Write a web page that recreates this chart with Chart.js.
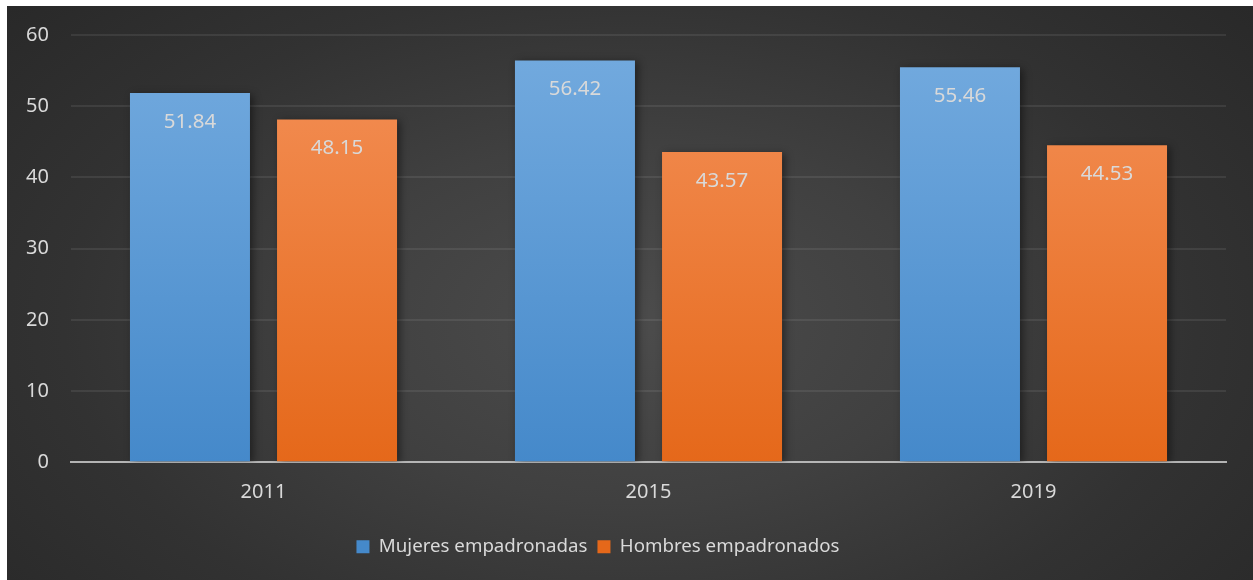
<!DOCTYPE html>
<html>
<head>
<meta charset="utf-8">
<script src="https://cdn.jsdelivr.net/npm/chart.js@4/dist/chart.umd.min.js"></script>
<style>
  html, body { margin: 0; padding: 0; background: #ffffff; }
  #wrap { position: relative; width: 1253px; height: 580px; overflow: hidden; }
  #bg { position: absolute; left: 7px; top: 6px; width: 1246px; height: 574px;
        background: radial-gradient(ellipse 70% 90% at 50% 55%, #4c4c4c 0%, #404040 35%, #323232 65%, #272727 100%); }
  #c { position: absolute; left: 0; top: 0; }
</style>
</head>
<body>
<div id="wrap">
  <div id="bg"></div>
  <canvas id="c" width="1253" height="580"></canvas>
</div>
<script>
const categories = ['2011', '2015', '2019'];
const mujeres = [51.84, 56.42, 55.46];
const hombres = [48.15, 43.57, 44.53];
const seriesNames = ['Mujeres empadronadas', 'Hombres empadronados'];
const yTicks = [0, 10, 20, 30, 40, 50, 60];

const FONT = '"Noto Sans", "Open Sans", sans-serif';
const TEXT = '#d9d9d9';

function grad(top, bottom) {
  return (ctx) => {
    const area = ctx.chart.chartArea;
    if (!area) return bottom;
    const g = ctx.chart.ctx.createLinearGradient(0, area.top, 0, area.bottom);
    g.addColorStop(0, top);
    g.addColorStop(1, bottom);
    return g;
  };
}

const fxPlugin = {
  id: 'fx',
  afterLayout(chart) {
    chart.legend.left -= 15;
    chart.legend.right -= 15;
  },
  beforeDatasetsDraw(chart) {
    const c = chart.ctx;
    c.save();
    c.shadowColor = 'rgba(0,0,0,0.45)';
    c.shadowBlur = 8;
    c.shadowOffsetX = 3;
    c.shadowOffsetY = 2;
  },
  afterDatasetsDraw(chart) {
    const c = chart.ctx;
    c.restore();
    c.save();
    c.fillStyle = TEXT;
    c.font = '20.5px ' + FONT;
    c.textAlign = 'center';
    c.textBaseline = 'middle';
    chart.data.datasets.forEach((ds, i) => {
      const meta = chart.getDatasetMeta(i);
      meta.data.forEach((bar, j) => {
        c.fillText(ds.data[j].toFixed(2), bar.x, bar.y + 29);
      });
    });
    c.restore();
  }
};

new Chart(document.getElementById('c'), {
  type: 'bar',
  data: {
    labels: categories,
    datasets: [
      { label: seriesNames[0], data: mujeres, backgroundColor: grad('#74abdf', '#4589ca'), borderWidth: 0,
        barPercentage: 0.816, categoryPercentage: 0.764 },
      { label: seriesNames[1], data: hombres, backgroundColor: grad('#f49159', '#e5681a'), borderWidth: 0,
        barPercentage: 0.816, categoryPercentage: 0.764 }
    ]
  },
  options: {
    responsive: false,
    animation: false,
    layout: { padding: { left: 0, right: 27, top: 35, bottom: 14 } },
    plugins: {
      tooltip: { enabled: false },
      legend: {
        position: 'bottom',
        labels: {
          color: TEXT,
          font: { family: FONT, size: 18.7 },
          boxWidth: 13,
          boxHeight: 13,
          padding: 10
        }
      }
    },
    scales: {
      x: {
        z: 1,
        grid: { display: false, drawTicks: false },
        border: { display: true, color: 'rgba(200,200,200,0.85)', width: 2 },
        ticks: { color: TEXT, font: { family: FONT, size: 20 }, padding: 18 },
        afterFit(s) { s.height = 65; }
      },
      y: {
        min: 0,
        max: 60,
        grid: { color: 'rgba(255,255,255,0.08)', lineWidth: 2, drawTicks: false },
        border: { display: false },
        afterBuildTicks(s) { s.ticks = yTicks.map(v => ({ value: v })); },
        ticks: { color: TEXT, font: { family: FONT, size: 20 }, padding: 22 },
        afterFit(s) { s.width = 71; }
      }
    }
  },
  plugins: [fxPlugin]
});
</script>
</body>
</html>
